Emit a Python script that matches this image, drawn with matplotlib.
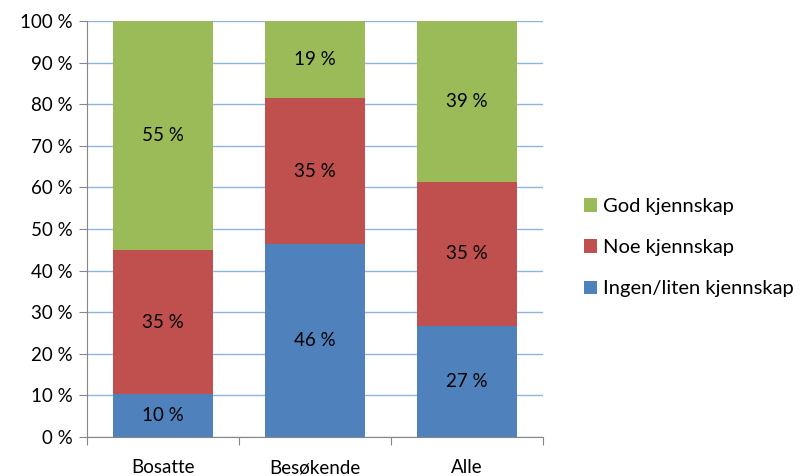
import matplotlib
matplotlib.use('Agg')
import matplotlib.pyplot as plt
import numpy as np

categories = ["Bosatte", "Besøkende", "Alle"]
series = ["Ingen/liten kjennskap", "Noe kjennskap", "God kjennskap"]
ingen = [10.3, 46.4, 26.6]
noe = [34.6, 35.0, 34.8]
god = [55.1, 18.6, 38.6]
colors = ["#4F81BD", "#C0504D", "#9BBB59"]

plt.rcParams['font.family'] = ['Lato', 'DejaVu Sans']

fig = plt.figure(figsize=(8.01, 4.76), dpi=100)
ax = fig.add_axes([0.1086, 0.082, 0.5693, 0.874])

x = np.arange(len(categories))
bottom = np.zeros(len(categories))
handles = []
for vals, name, col in zip([ingen, noe, god], series, colors):
    b = ax.bar(x, vals, bottom=bottom, width=0.66, color=col, label=name, zorder=3)
    handles.append(b)
    for xi, v, bt in zip(x, vals, bottom):
        ax.text(xi, bt + v / 2, f"{round(v)} %", ha='center', va='center',
                fontsize=13.5, color='black', zorder=4)
    bottom += np.array(vals)

ax.set_xlim(-0.5, 2.5)
ax.set_ylim(0, 100)
ax.set_yticks(range(0, 101, 10))
ax.set_yticklabels([f"{t} %" for t in range(0, 101, 10)], fontsize=13.5)
ax.yaxis.grid(True, color='#8EB4E3', linewidth=1, zorder=0)
ax.set_xticks([-0.5, 0.5, 1.5, 2.5])
ax.set_xticklabels([])
ax.set_xticks(x, minor=True)
ax.set_xticklabels(categories, minor=True, fontsize=13.5)
ax.tick_params(axis='x', which='minor', length=0, pad=16)
ax.tick_params(axis='x', which='major', length=6, color='#868686', direction='out')
ax.tick_params(axis='y', length=6, color='#868686', direction='out', pad=4)

for s in ['top', 'right']:
    ax.spines[s].set_visible(False)
for s in ['left', 'bottom']:
    ax.spines[s].set_color('#868686')

ax.legend(handles[::-1], series[::-1], loc='center left', bbox_to_anchor=(1.05, 0.455),
          frameon=False, fontsize=14.5, handlelength=0.65, handleheight=0.65,
          handletextpad=0.3, labelspacing=1.2)

fig.savefig("out.png", dpi=100)
